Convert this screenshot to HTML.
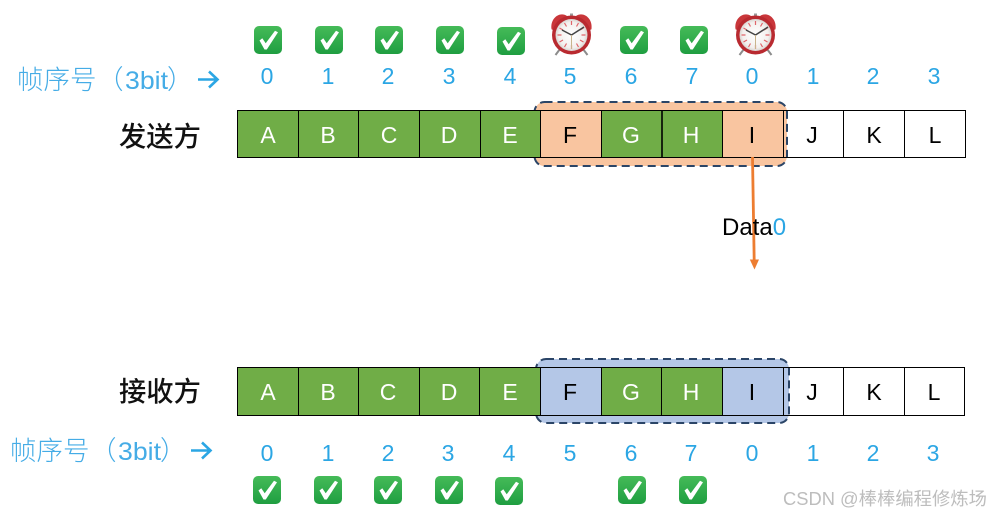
<!DOCTYPE html>
<html><head><meta charset="utf-8"><style>
html,body{margin:0;padding:0;background:#fff;width:990px;height:516px;overflow:hidden}
svg{display:block}
text{font-family:"Liberation Sans","Noto Sans CJK SC",sans-serif}
.n{font-size:23px;fill:#2ba6e4;text-anchor:middle}
.c{font-size:23px;text-anchor:middle;fill:#000}
.w{fill:#fff}
.t{font-size:26.5px;fill:#45ace6;font-weight:300}
.h{font-size:27.3px;font-weight:500;fill:#111;font-family:"Noto Sans CJK SC","Liberation Sans",sans-serif}
</style></head><body>
<svg width="990" height="516" viewBox="0 0 990 516" xmlns="http://www.w3.org/2000/svg">
<defs>
<linearGradient id="g" x1="0" y1="0" x2="0" y2="1"><stop offset="0" stop-color="#45bb58"/><stop offset="1" stop-color="#1f9e41"/></linearGradient>
<radialGradient id="f" cx=".5" cy=".5" r=".5"><stop offset="0" stop-color="#fff"/><stop offset=".8" stop-color="#f3f0ee"/><stop offset="1" stop-color="#d9d4d0"/></radialGradient>
<g id="k"><rect x="0" y="0" width="28" height="28" rx="5" fill="url(#g)"/><path d="M5.500 14.500L8.300 12.300L11.700 17.300L21 4.800L24 6.200L12.800 23.500H10.500Z" fill="#fff"/></g>
<g id="a">
<path d="M9 36 L4.500 42 M32 36 L36.500 42" stroke="#8c8c8c" stroke-width="2"/>
<path d="M0.500 16 C-1 5 9 -2 16 3 C17 4 17 5 16 6 L3 16 C2 17 1 17 0.500 16Z" fill="#c9363a"/>
<path d="M40.500 16 C42 5 32 -2 25 3 C24 4 24 5 25 6 L38 16 C39 17 40 17 40.500 16Z" fill="#c9363a"/>
<rect x="19" y="0.500" width="3" height="5" fill="#999"/>
<circle cx="20.500" cy="22" r="19.500" fill="#b92a30"/>
<circle cx="20.500" cy="22" r="16" fill="url(#f)"/>
<path d="M20.500 8v4M20.500 32v4M6.500 22h4M30.500 22h4M13.500 10l2 3.500M27.500 10l-2 3.500M13.500 34l2-3.500M27.500 34l-2-3.500M8.500 15l3.500 2M32.500 15l-3.500 2M8.500 29l3.500-2M32.500 29l-3.500-2" stroke="#e0656a" stroke-width="1.200"/>
<path d="M20.500 22 L33 14 M20.500 22 L11 17" stroke="#444" stroke-width="1.500"/>
<path d="M20.500 22 V36" stroke="#c9b48c" stroke-width="1"/>
</g>
</defs>

<!-- top checks -->
<use href="#k" x="254" y="26"/><use href="#k" x="315" y="26"/><use href="#k" x="375" y="26"/><use href="#k" x="436" y="26"/><use href="#k" x="497" y="27"/><use href="#k" x="620" y="26"/><use href="#k" x="680" y="26"/>
<use href="#a" x="551" y="13"/><use href="#a" x="735" y="13"/>

<!-- top numbers -->
<g class="nums">
<text class="n" x="267" y="84">0</text><text class="n" x="328" y="84">1</text><text class="n" x="388" y="84">2</text><text class="n" x="449" y="84">3</text><text class="n" x="510" y="84">4</text><text class="n" x="570" y="84">5</text><text class="n" x="631" y="84">6</text><text class="n" x="692" y="84">7</text><text class="n" x="752" y="84">0</text><text class="n" x="813" y="84">1</text><text class="n" x="873" y="84">2</text><text class="n" x="934" y="84">3</text>
</g>
<text class="t" x="17" y="89">帧序号</text><text class="t" x="97" y="89">（</text><text class="t" x="125" y="89" style="font-size:25px" textLength="43" lengthAdjust="spacingAndGlyphs">3bit</text><text class="t" x="167" y="89">）</text>
<path d="M198 79.500H217M209 71.500L217.500 79.500L209 87.500" fill="none" stroke="#2ba6e4" stroke-width="2.600"/>

<text class="h" x="119" y="146">发送方</text>

<!-- top row -->
<rect x="237.500" y="110.500" width="728" height="47" fill="#fff" stroke="#000" stroke-width="1"/>
<rect x="534.500" y="102" width="252.500" height="64" rx="10" fill="#f9c5a0" stroke="#2b4567" stroke-width="2" stroke-dasharray="8 5"/>
<rect x="237.500" y="110.500" width="303" height="47" fill="#70ad47"/>
<rect x="601.500" y="110.500" width="121" height="47" fill="#70ad47"/>
<path d="M237.500 110.500H965.500V157.500H237.500ZM298.500 110.500V157.500M358.500 110.500V157.500M419.500 110.500V157.500M480.500 110.500V157.500M540.500 110.500V157.500M601.500 110.500V157.500M722.500 110.500V157.500M783.500 110.500V157.500M843.500 110.500V157.500M904.500 110.500V157.500" fill="none" stroke="#000" stroke-width="1"/>
<path d="M662 110.500V157.500" stroke="#000" stroke-width="1.600"/>
<text class="c w" x="268" y="143">A</text><text class="c w" x="328" y="143">B</text><text class="c w" x="389" y="143">C</text><text class="c w" x="449" y="143">D</text><text class="c w" x="510" y="143">E</text><text class="c" x="570" y="143">F</text><text class="c w" x="631" y="143">G</text><text class="c w" x="691" y="143">H</text><text class="c" x="752" y="143">I</text><text class="c" x="812" y="143">J</text><text class="c" x="874" y="143">K</text><text class="c" x="935" y="143">L</text>

<!-- arrow -->
<path d="M752.500 157L754.200 261" stroke="#ed7d31" stroke-width="2.800" fill="none"/>
<path d="M749.800 259.500H759L754.500 269.500Z" fill="#ed7d31"/>
<text x="722" y="235" style="font-size:24px" fill="#000">Data<tspan fill="#2ba6e4">0</tspan></text>

<!-- bottom row -->
<text class="h" x="119" y="401">接收方</text>
<rect x="237.500" y="367.500" width="727" height="48" fill="#fff" stroke="#000" stroke-width="1"/>
<rect x="536" y="359" width="253" height="64" rx="10" fill="#b4c7e7" stroke="#2b4567" stroke-width="2" stroke-dasharray="8 5"/>
<rect x="237.500" y="367.500" width="303" height="48" fill="#70ad47"/>
<rect x="601.500" y="367.500" width="121" height="48" fill="#70ad47"/>
<path d="M237.500 367.500H964.500V415.500H237.500ZM298.500 367.500V415.500M358.500 367.500V415.500M419.500 367.500V415.500M479.500 367.500V415.500M540.500 367.500V415.500M601.500 367.500V415.500M661.500 367.500V415.500M722.500 367.500V415.500M783.500 367.500V415.500M843.500 367.500V415.500M904.500 367.500V415.500" fill="none" stroke="#000" stroke-width="1"/>
<text class="c w" x="268" y="400">A</text><text class="c w" x="328" y="400">B</text><text class="c w" x="388" y="400">C</text><text class="c w" x="449" y="400">D</text><text class="c w" x="510" y="400">E</text><text class="c" x="570" y="400">F</text><text class="c w" x="631" y="400">G</text><text class="c w" x="691" y="400">H</text><text class="c" x="752" y="400">I</text><text class="c" x="812" y="400">J</text><text class="c" x="874" y="400">K</text><text class="c" x="934" y="400">L</text>

<!-- bottom numbers -->
<text class="n" x="267" y="461">0</text><text class="n" x="328" y="461">1</text><text class="n" x="388" y="461">2</text><text class="n" x="448" y="461">3</text><text class="n" x="509" y="461">4</text><text class="n" x="570" y="461">5</text><text class="n" x="631" y="461">6</text><text class="n" x="691" y="461">7</text><text class="n" x="752" y="461">0</text><text class="n" x="813" y="461">1</text><text class="n" x="873" y="461">2</text><text class="n" x="933" y="461">3</text>
<text class="t" x="10" y="460">帧序号</text><text class="t" x="90" y="460">（</text><text class="t" x="118" y="460" style="font-size:25px" textLength="43" lengthAdjust="spacingAndGlyphs">3bit</text><text class="t" x="160" y="460">）</text>
<path d="M191 450.500H210M202 442.500L210.500 450.500L202 458.500" fill="none" stroke="#2ba6e4" stroke-width="2.600"/>

<!-- bottom checks -->
<use href="#k" x="253" y="476"/><use href="#k" x="314" y="476"/><use href="#k" x="374" y="476"/><use href="#k" x="435" y="476"/><use href="#k" x="495" y="477"/><use href="#k" x="618" y="476"/><use href="#k" x="679" y="476"/>

<text x="783" y="505" style="font-size:18px" fill="#bdbdbd" textLength="204" lengthAdjust="spacingAndGlyphs">CSDN @棒棒编程修炼场</text>
</svg>
</body></html>
